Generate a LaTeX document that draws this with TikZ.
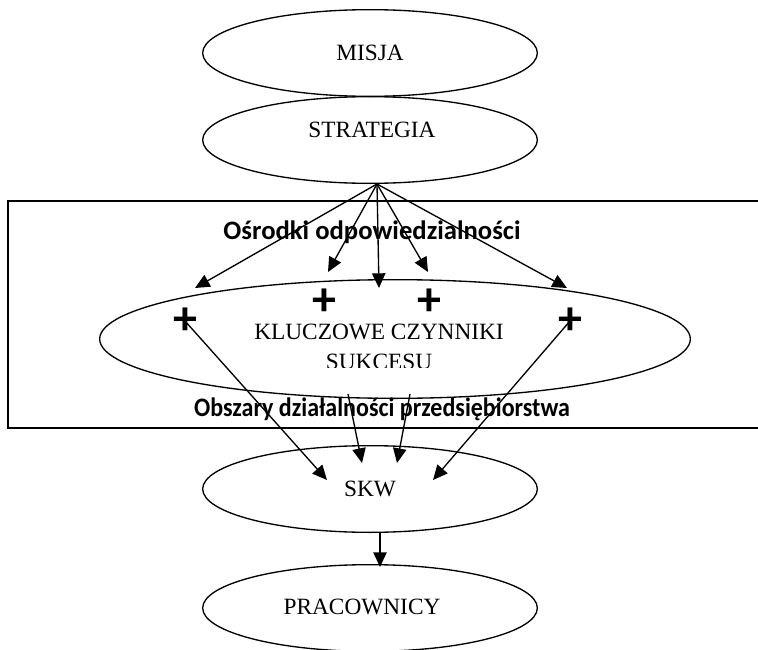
\documentclass[tikz,border=0pt]{standalone}
\usepackage{fontspec}
\setmainfont{Liberation Serif}
\newfontfamily\capfont{Carlito}
\usetikzlibrary{arrows.meta,shapes.geometric}

\tikzset{
  oval/.style={draw, ellipse, line width=1pt, inner sep=0pt,
    minimum width=251pt, minimum height=65pt},
  ovaltext/.style={font=\fontsize{17.5}{22.5}\selectfont, align=center, inner sep=0pt},
  arr/.style={line width=1pt, -{Triangle[length=11pt,width=10pt]}},
  plussign/.style={inner sep=0pt, text height=20pt, text depth=0pt,
    font=\capfont\bfseries\fontsize{36}{36}\selectfont},
  caption/.style={inner sep=0pt, font=\capfont\bfseries\fontsize{20}{24}\selectfont}
}

\begin{document}
\begin{tikzpicture}[x=0.75pt,y=-0.75pt]
  %%%%% START %%%%%
  \useasboundingbox (0,0) rectangle (758,650);

  % upper ovals
  \node[oval, ovaltext] (misja) at (370,53) {MISJA};
  \node[oval] (strategia) at (370,140) {};
  \node[ovaltext] (strategiatext) at (372,130) {STRATEGIA};

  % frame with the key factors
  \draw[line width=1pt] (8,201) rectangle (770,428);
  \node[caption] (osrodki) at (372,232) {Ośrodki odpowiedzialności};
  \node[caption] (obszary) at (382,409) {\scalebox{0.9}[1]{Obszary działalności przedsiębiorstwa}};

  \node[oval, minimum width=443pt, minimum height=89pt] (kcs) at (395,339) {};
  \node[ovaltext] (kcstext) at (379,332) {KLUCZOWE CZYNNIKI};
  \begin{scope}
    \clip (240,345) rectangle (520,367);
    \node[ovaltext] (kcstexttwo) at (379,362) {SUKCESU};
  \end{scope}

  \node[plussign] (p1) at (185,321) {+};
  \node[plussign] (p2) at (324,302) {+};
  \node[plussign] (p3) at (429,302) {+};
  \node[plussign] (p4) at (570,321) {+};

  % lower ovals
  \node[oval, ovaltext] (skw) at (370,489) {SKW};
  \node[oval] (pracownicy) at (370,608) {};
  \node[ovaltext] (pracownicytext) at (362,607) {PRACOWNICY};

  % fan out of the strategy
  \coordinate (fan) at (377,184);
  \coordinate (t1) at (195,288);
  \coordinate (t2) at (328,272);
  \coordinate (t3) at (379,288);
  \coordinate (t4) at (428,272);
  \coordinate (t5) at (567,288);
  \foreach \t in {t1,t2,t3,t4,t5}
    \draw[arr] (fan) -- (\t);

  % into the SKW
  \coordinate (s2) at (348,394);
  \coordinate (s3) at (410,394);
  \coordinate (e1) at (327,480);
  \coordinate (e2) at (362,463);
  \coordinate (e3) at (397,463);
  \coordinate (e4) at (433,480);
  \draw[arr] (p1.center) -- (e1);
  \draw[arr] (s2) -- (e2);
  \draw[arr] (s3) -- (e3);
  \draw[arr] (p4.center) -- (e4);

  \coordinate (d1) at (380,532);
  \coordinate (d2) at (380,567);
  \draw[arr] (d1) -- (d2);
  %%%%% END %%%%%
\end{tikzpicture}
\end{document}
